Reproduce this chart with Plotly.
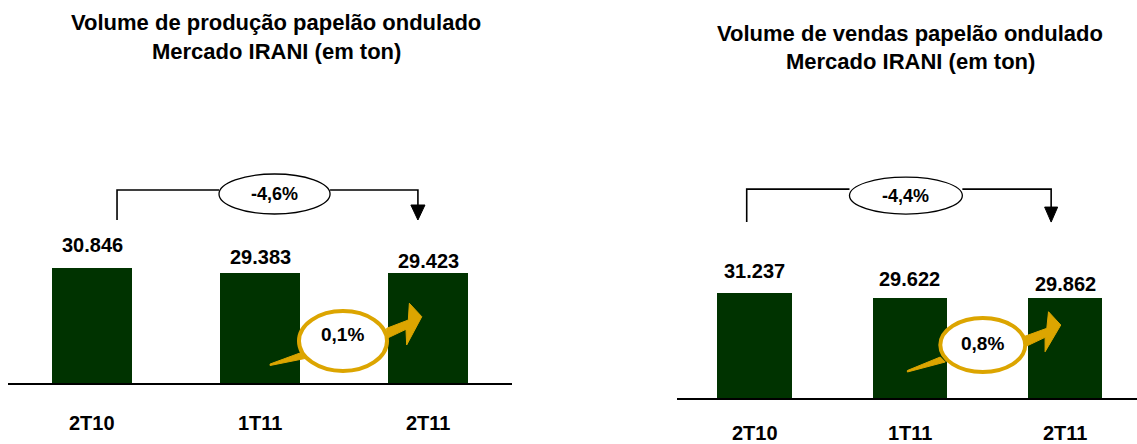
import plotly.graph_objects as go

# ---- data ----
categories = ["2T10", "1T11", "2T11"]
producao = [30846, 29383, 29423]
vendas = [31237, 29622, 29862]
producao_labels = ["30.846", "29.383", "29.423"]
vendas_labels = ["31.237", "29.622", "29.862"]
var_producao_ano = "-4,6%"
var_producao_tri = "0,1%"
var_vendas_ano = "-4,4%"
var_vendas_tri = "0,8%"
title_left = ["Volume de produção papelão ondulado", "Mercado IRANI (em ton)"]
title_right = ["Volume de vendas papelão ondulado", "Mercado IRANI (em ton)"]

W, H = 1137, 444
BAR = "#003300"
GOLD = "#DCA500"
FONT = "Liberation Sans, Arial, sans-serif"
xs = list(range(len(categories)))

fig = go.Figure()
fig.add_trace(go.Bar(x=xs, y=producao, width=0.476, marker=dict(color=BAR, line=dict(width=0)),
                     xaxis="x", yaxis="y", hoverinfo="skip"))
fig.add_trace(go.Bar(x=xs, y=vendas, width=0.48, marker=dict(color=BAR, line=dict(width=0)),
                     xaxis="x2", yaxis="y2", hoverinfo="skip"))

shapes = []
annotations = []


def panel(xr, yr, bracket, label_ano, gold_ell, tail, head, label_tri):
    # bracket (year-over-year)
    xl, xe0, xe1, xr_, ytop, ybot, yhead, ey0, ey1 = bracket
    shapes.append(dict(type="path", xref=xr, yref=yr,
                       path=f"M {xl},{ybot} L {xl},{ytop} L {xe0},{ytop}",
                       line=dict(color="black", width=1.6)))
    shapes.append(dict(type="path", xref=xr, yref=yr,
                       path=f"M {xe1},{ytop} L {xr_},{ytop} L {xr_},{yhead}",
                       line=dict(color="black", width=1.6)))
    aw = 0.042
    shapes.append(dict(type="path", xref=xr, yref=yr,
                       path=f"M {xr_-aw},{yhead} L {xr_+aw},{yhead} L {xr_},{ybot} Z",
                       fillcolor="black", line=dict(color="black", width=1)))
    shapes.append(dict(type="circle", xref=xr, yref=yr, x0=xe0, x1=xe1, y0=ey0, y1=ey1,
                       fillcolor="white", line=dict(color="black", width=1.3)))
    annotations.append(dict(xref=xr, yref=yr, x=(xe0 + xe1) / 2, y=(ey0 + ey1) / 2,
                            text=f"<b>{label_ano}</b>", showarrow=False,
                            font=dict(family=FONT, size=18, color="black")))
    # gold curved arrow (quarter-over-quarter)
    shapes.append(dict(type="path", xref=xr, yref=yr,
                       path="M " + " L ".join(f"{a},{b}" for a, b in tail) + " Z",
                       fillcolor=GOLD, line=dict(color=GOLD, width=1)))
    shapes.append(dict(type="path", xref=xr, yref=yr,
                       path="M " + " L ".join(f"{a},{b}" for a, b in head) + " Z",
                       fillcolor=GOLD, line=dict(color=GOLD, width=1)))
    gx0, gx1, gy0, gy1, ty = gold_ell
    shapes.append(dict(type="circle", xref=xr, yref=yr, x0=gx0, x1=gx1, y0=gy0, y1=gy1,
                       fillcolor="white", line=dict(color=GOLD, width=4)))
    annotations.append(dict(xref=xr, yref=yr, x=(gx0 + gx1) / 2, y=ty,
                            text=f"<b>{label_tri}</b>", showarrow=False,
                            font=dict(family=FONT, size=19, color="black")))


panel("x", "y",
      (0.149, 0.756, 1.417, 1.94, 51763, 43717, 47740, 45326, 56054), var_producao_ano,
      (1.232, 1.756, 3218, 19310, 12900),
      [(1.06, 5096), (1.06, 4693), (1.268, 6571), (1.238, 8046)],
      [(1.756, 11989), (1.869, 14402), (1.873, 10192), (1.963, 17782), (1.889, 21376),
       (1.883, 16897), (1.754, 14670)],
      var_producao_tri)
panel("x2", "y2",
      (-0.051, 0.611, 1.338, 1.91, 62178, 52360, 56823, 54740, 65748), var_vendas_ano,
      (1.196, 1.743, 7735, 23800, 16300),
      [(0.984, 8181), (0.984, 7735), (1.228, 10710), (1.196, 12198)],
      [(1.743, 15262), (1.871, 18058), (1.871, 13774), (1.972, 21718), (1.893, 25674),
       (1.882, 20736), (1.732, 18237)],
      var_vendas_tri)

# value labels
left_shift = [23, 16, 12]
right_shift = [22, 19, 14]
for i, (v, t) in enumerate(zip(producao, producao_labels)):
    annotations.append(dict(xref="x", yref="y", x=i, y=v, yshift=left_shift[i], text=f"<b>{t}</b>",
                            showarrow=False, yanchor="middle",
                            font=dict(family=FONT, size=20, color="black")))
for i, (v, t) in enumerate(zip(vendas, vendas_labels)):
    annotations.append(dict(xref="x2", yref="y2", x=i, y=v, yshift=right_shift[i], text=f"<b>{t}</b>",
                            showarrow=False, yanchor="middle",
                            font=dict(family=FONT, size=20, color="black")))
# category labels
for i, c in enumerate(categories):
    annotations.append(dict(xref="x", yref="y", x=i, y=0, yshift=-40, text=f"<b>{c}</b>",
                            showarrow=False, yanchor="middle",
                            font=dict(family=FONT, size=20, color="black")))
    annotations.append(dict(xref="x2", yref="y2", x=i, y=0, yshift=-35, text=f"<b>{c}</b>",
                            showarrow=False, yanchor="middle",
                            font=dict(family=FONT, size=20, color="black")))
# titles
for txt, py, px in [(title_left[0], 22, 276), (title_left[1], 51, 276),
                    (title_right[0], 33, 910), (title_right[1], 61, 910)]:
    annotations.append(dict(xref="paper", yref="paper", x=px / W, y=1 - py / H, text=f"<b>{txt}</b>",
                            showarrow=False, xanchor="center", yanchor="middle",
                            font=dict(family=FONT, size=22, color="black")))

axis_common = dict(showgrid=False, zeroline=False, showticklabels=False, ticks="",
                   showline=False, fixedrange=True)
fig.update_layout(
    width=W, height=H,
    margin=dict(l=0, r=0, t=0, b=0),
    paper_bgcolor="white", plot_bgcolor="white",
    showlegend=False, bargap=0,
    xaxis=dict(domain=[8 / W, 512 / W], range=[-0.5, 2.5], showline=True, linecolor="black",
               linewidth=2, showgrid=False, zeroline=False, showticklabels=False, ticks="",
               anchor="y"),
    yaxis=dict(domain=[(H - 383) / H, (H - 122) / H], range=[0, 70000], anchor="x", **axis_common),
    xaxis2=dict(domain=[677 / W, 1.0], range=[-0.5, 2.463], showline=True, linecolor="black",
                linewidth=2, showgrid=False, zeroline=False, showticklabels=False, ticks="",
                anchor="y2"),
    yaxis2=dict(domain=[(H - 398) / H, (H - 146) / H], range=[0, 75000], anchor="x2", **axis_common),
    shapes=shapes,
    annotations=annotations,
)

fig.write_html("out.html", config={"displayModeBar": False})
